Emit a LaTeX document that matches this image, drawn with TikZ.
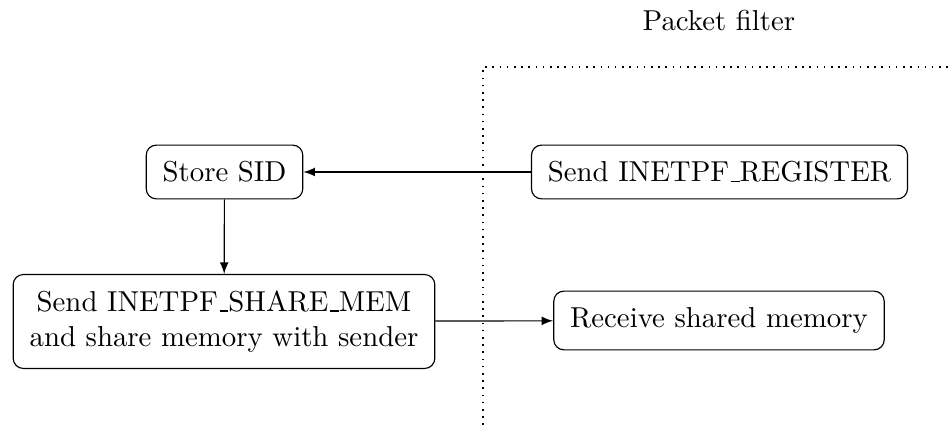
\documentclass[tikz,border=0pt]{standalone}
\usetikzlibrary{arrows}
% short low rule used as the underscore in identifiers
\newcommand\idus{\leavevmode\kern.06em\vbox{\hrule width.3em}}
\begin{document}
\begin{tikzpicture}[x=0.347pt,y=-0.347pt,
  procbox/.style={draw, rounded corners=3.5pt, inner sep=2mm, align=center},
  flow/.style={-latex},
  boundary/.style={line width=0.55pt, dash pattern=on 0.55pt off 1.95pt}]
\useasboundingbox (0,0) rectangle (948,425);
% region boundary of the packet filter
\node (pf) at (719,21) {Packet filter};
\coordinate (pfbot) at (483,425);
\coordinate (pfcorner) at (483,67);
\coordinate (pfright) at (948,67);
\draw[boundary] (pfbot) -- (pfcorner) -- (pfright);
% steps
\node[procbox] (store) at (224.5,172) {Store SID};
\node[procbox] (reg) at (719.5,172) {Send INETPF\idus REGISTER};
\node[procbox] (share) at (224,321.5) {Send INETPF\idus SHARE\idus MEM\\and share memory with sender};
\node[procbox] (recv) at (719,320.5) {Receive shared memory};
% message flow
\draw[flow] (reg) -- (store);
\draw[flow] (store) -- (share);
\draw[flow] (share) -- (recv);
\end{tikzpicture}
\end{document}
